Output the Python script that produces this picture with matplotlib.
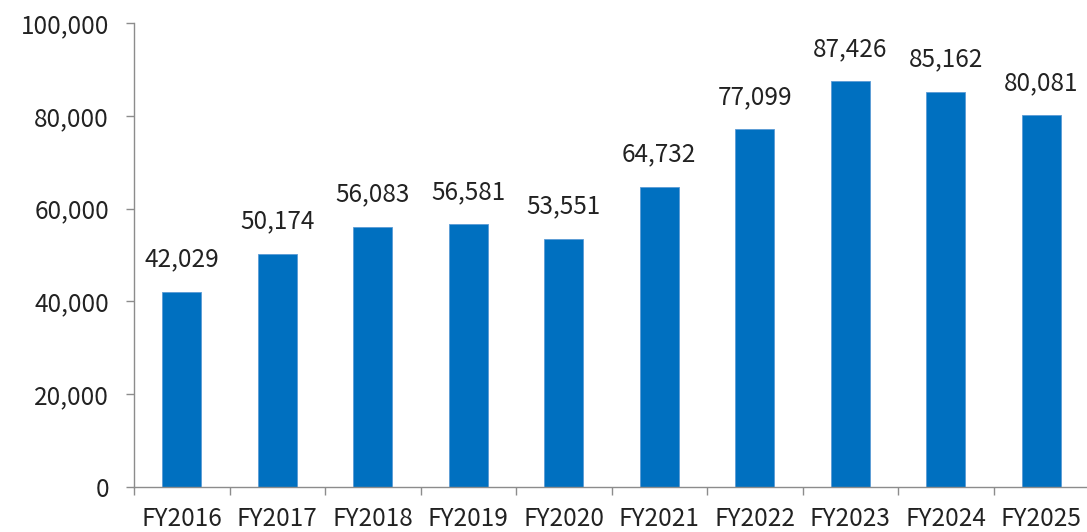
import matplotlib.pyplot as plt
from matplotlib.ticker import FuncFormatter

# data
years = ["FY2016", "FY2017", "FY2018", "FY2019", "FY2020",
         "FY2021", "FY2022", "FY2023", "FY2024", "FY2025"]
values = [42029, 50174, 56083, 56581, 53551, 64732, 77099, 87426, 85162, 80081]

plt.rcParams['font.family'] = ['Noto Sans CJK JP', 'DejaVu Sans']
axis_gray = "#8c8c8c"
bar_blue = "#0070c0"
fs = 17.5

fig = plt.figure(figsize=(10.87, 5.32), dpi=100)
ax = fig.add_axes([134 / 1087, 1 - 487 / 532, 955 / 1087, (487 - 23) / 532])

x = list(range(len(years)))
bars = ax.bar(x, values, width=0.41, color=bar_blue, edgecolor="#5b9bd5", linewidth=0.6)

for xi, v in zip(x, values):
    ax.text(xi, v + 4200, f"{v:,}", ha="center", va="bottom", fontsize=fs, color="#222222")

ax.set_xlim(-0.5, len(years) - 0.5)
ax.set_ylim(0, 100000)
ax.set_yticks(range(0, 100001, 20000))
ax.yaxis.set_major_formatter(FuncFormatter(lambda v, p: f"{int(v):,}"))

# category boundary ticks on x
ax.set_xticks([i - 0.5 for i in range(len(years) + 1)])
ax.set_xticklabels([])
ax.set_xticks(x, minor=True)
ax.set_xticklabels(years, minor=True)
ax.tick_params(axis="x", which="minor", length=0, pad=14, labelsize=fs, labelcolor="#222222")
ax.tick_params(axis="x", which="major", length=6, color=axis_gray, width=1)
ax.tick_params(axis="y", length=6, color=axis_gray, width=1, pad=12, labelsize=fs, labelcolor="#222222")

for side in ["top", "right"]:
    ax.spines[side].set_visible(False)
for side in ["left", "bottom"]:
    ax.spines[side].set_color(axis_gray)
    ax.spines[side].set_linewidth(1)

fig.savefig("out.png", dpi=100)
